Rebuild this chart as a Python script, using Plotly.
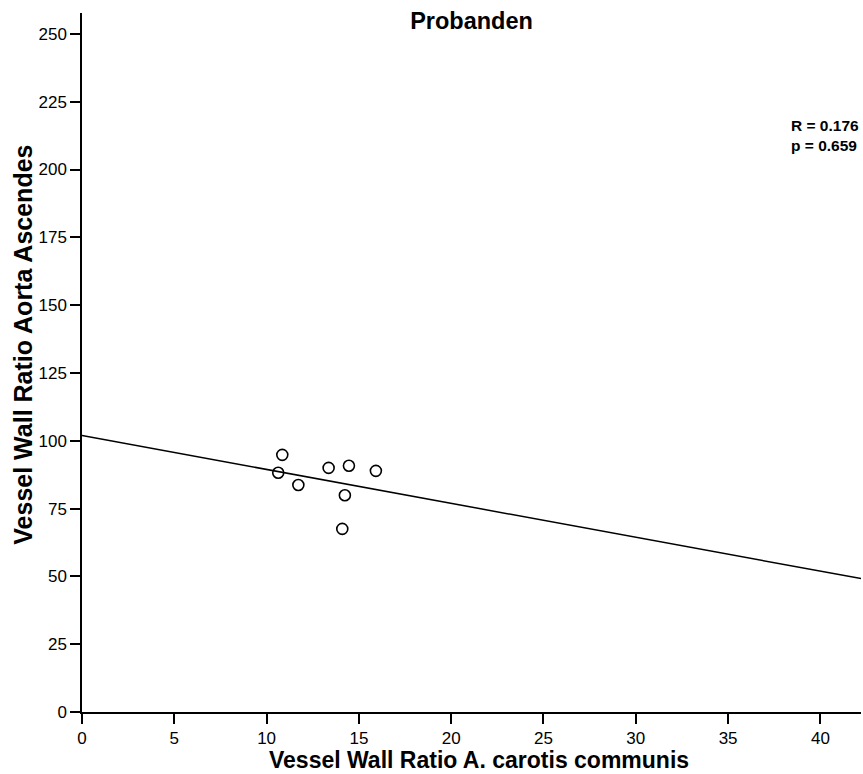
import numpy as np
import plotly.graph_objects as go

x_vals = [10.85, 10.63, 11.72, 13.36, 14.46, 15.92, 14.24, 14.10]
y_vals = [94.8, 88.2, 83.7, 90.0, 90.8, 88.9, 79.9, 67.5]
x_ticks = [0, 5, 10, 15, 20, 25, 30, 35, 40]
y_ticks = [0, 25, 50, 75, 100, 125, 150, 175, 200, 225, 250]
x_range = [0, 42.2]
y_range = [0, 257.7]

slope, intercept = np.polyfit(x_vals, y_vals, 1)
line_x = np.array(x_range)
line_y = intercept + slope * line_x

fig = go.Figure()
fig.add_trace(go.Scatter(x=line_x, y=line_y, mode="lines",
                         line=dict(color="black", width=1.5), showlegend=False, hoverinfo="skip"))
fig.add_trace(go.Scatter(x=x_vals, y=y_vals, mode="markers",
                         marker=dict(symbol="circle-open", size=11, color="black", line=dict(width=1.6)),
                         showlegend=False))

font_family = "Liberation Sans, Arial, sans-serif"
W, H = 863, 774
L, R, T, B = 81.5, 2, 13, 62.3
PW, PH = W - L - R, H - T - B


def px(xp):
    return (xp - L) / PW


def py(yp):
    return (H - B - yp) / PH


fig.update_layout(
    width=W, height=H,
    margin=dict(l=L, r=R, t=T, b=B),
    paper_bgcolor="white", plot_bgcolor="white",
    font=dict(family=font_family, color="black"),
    title=dict(text="<b>Probanden</b>", xref="paper", x=0.5, xanchor="center",
               yref="container", y=1 - 21 / H, yanchor="middle",
               font=dict(size=23.5, color="black")),
    xaxis=dict(range=x_range, tickvals=x_ticks, showgrid=False, zeroline=False,
               showline=True, linecolor="black", linewidth=1.5,
               ticks="outside", ticklen=10, tickwidth=1.5, tickcolor="black",
               tickfont=dict(size=17)),
    yaxis=dict(range=y_range, tickvals=y_ticks, showgrid=False, zeroline=False,
               showline=True, linecolor="black", linewidth=1.5,
               ticks="outside", ticklen=10, tickwidth=1.5, tickcolor="black",
               tickfont=dict(size=17)),
    annotations=[
        dict(text="<b>R = 0.176<br>p = 0.659</b>", xref="paper", yref="paper",
             x=1.0, y=py(115), xanchor="right", yanchor="top",
             align="left", showarrow=False, font=dict(size=15.5, color="black")),
        dict(text="<b>Vessel Wall Ratio A. carotis communis</b>", xref="paper", yref="paper",
             x=px(479), y=py(773.5), xanchor="center", yanchor="bottom", borderpad=0,
             showarrow=False, font=dict(size=23, color="black")),
        dict(text="<b>Vessel Wall Ratio Aorta Ascendes</b>", xref="paper", yref="paper",
             x=px(23), y=py(345), xanchor="center", yanchor="middle", textangle=-90,
             showarrow=False, font=dict(size=25, color="black")),
    ],
)

fig.write_html("out.html", config={"displayModeBar": False},
               post_script="document.body.style.margin='0';document.body.style.overflow='hidden';")
